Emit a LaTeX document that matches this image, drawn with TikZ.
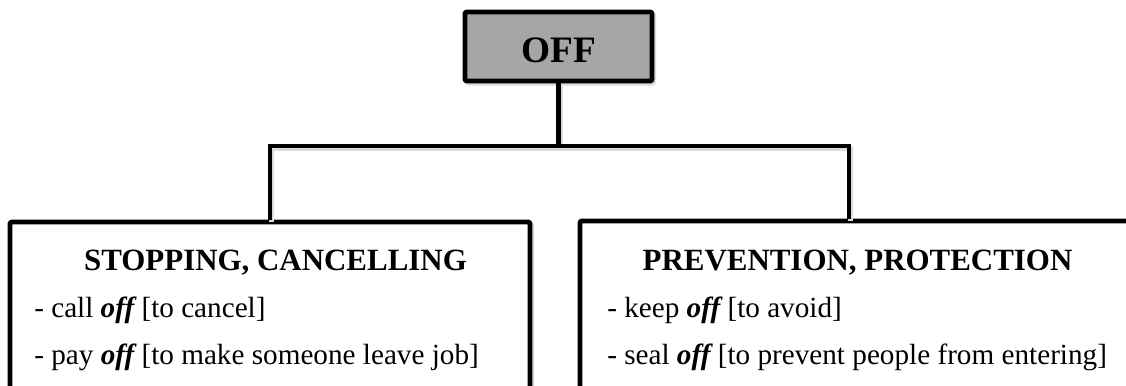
\documentclass[tikz,border=0pt]{standalone}
\usepackage{fontspec}
\setmainfont{Liberation Serif}
\newcommand{\offword}{{\bfseries\itshape off}}
\begin{document}
\begin{tikzpicture}[x=0.75pt,y=-0.75pt,
  frame/.style={draw=black,line width=3.6pt,line join=round,rounded corners=1pt,inner sep=0pt,
    preaction={draw=black!14,line width=3.6pt,transform canvas={shift={(1.3pt,-1.6pt)}}}},
  link/.style={draw=black,line width=3.6pt,line join=miter,
    preaction={draw=black!14,line width=3.6pt,transform canvas={shift={(1.3pt,-1.6pt)}}}},
  headtext/.style={font=\fontsize{23.2}{27}\selectfont\bfseries,anchor=base,inner sep=0pt},
  itemtext/.style={font=\fontsize{21.9}{26}\selectfont,anchor=base west,inner sep=0pt}]
  \useasboundingbox (0,0) rectangle (1126,385);
  \clip (0,0) rectangle (1126,385);

  % root box
  \node[frame,fill=black!35,minimum width=187*0.75pt,minimum height=69*0.75pt] (off) at (558.5,46.5) {};
  \node[font=\fontsize{28}{32}\selectfont\bfseries,anchor=base,inner sep=0pt] (offlabel) at (559,63) {OFF};

  % branch boxes (their lower parts run past the page edge)
  \node[frame,fill=white,minimum width=520*0.75pt,minimum height=200*0.75pt] (lbox) at (270,322) {};
  \node[frame,fill=white,minimum width=556*0.75pt,minimum height=200*0.75pt] (rbox) at (858,321) {};

  % connectors
  \coordinate (junction) at (558.5,146);
  \coordinate (rdrop) at (849,146);
  \draw[link] (off.south) -- (junction);
  \draw[link] (lbox.north) |- (rdrop) -- (rdrop |- rbox.north);

  % left branch text
  \node[headtext] (lhead) at (275.5,270) {STOPPING, CANCELLING};
  \node[itemtext] (litem1) at (34,317) {- call \offword{} [to cancel]};
  \node[itemtext] (litem2) at (34,364) {- pay \offword{} [to make someone leave job]};

  % right branch text
  \node[headtext] (rhead) at (857.5,270) {PREVENTION, PROTECTION};
  \node[itemtext] (ritem1) at (607,317) {- keep \offword{} [to avoid]};
  \node[itemtext] (ritem2) at (607,364) {- seal \offword{} [to prevent people from entering]};
\end{tikzpicture}
\end{document}
